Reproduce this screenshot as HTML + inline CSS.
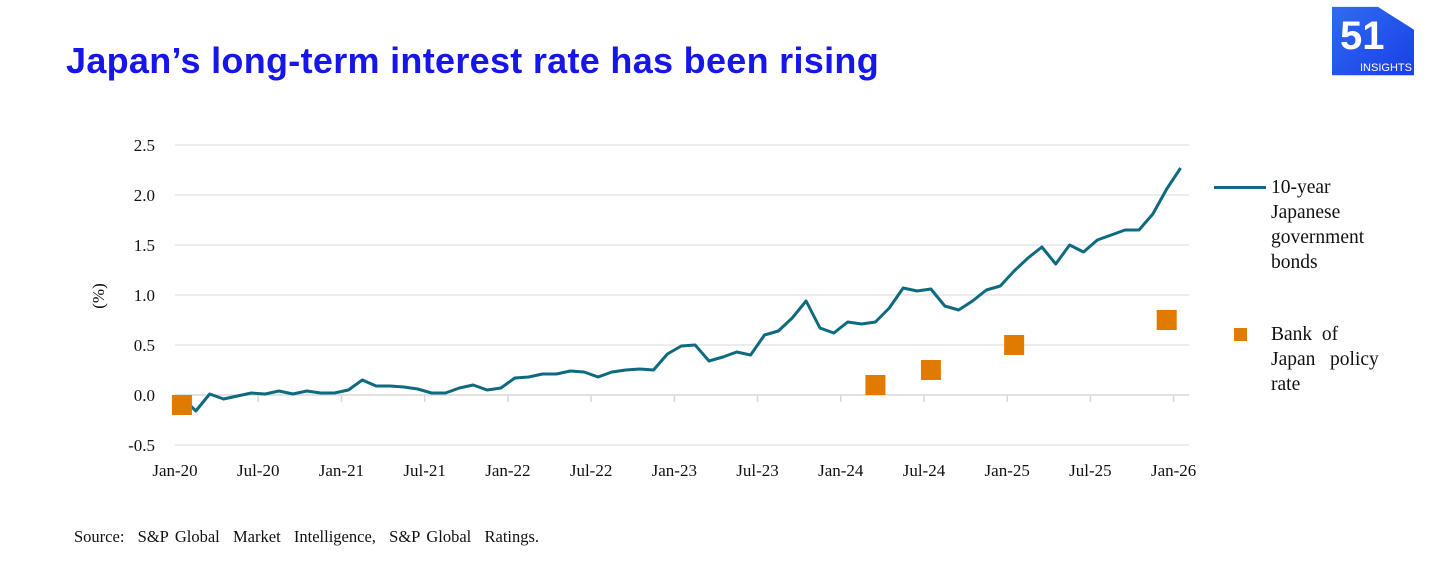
<!DOCTYPE html>
<html><head><meta charset="utf-8"><style>
body{margin:0;width:1456px;height:580px;background:#fff;overflow:hidden;position:relative;font-family:"Liberation Serif",serif}
.title{position:absolute;left:66px;top:40px;font:bold 36px "Liberation Sans",sans-serif;color:#1616e8;letter-spacing:0.3px}
.src{position:absolute;left:74px;top:527px;font-size:16.5px;color:#111;word-spacing:2.5px;white-space:pre}
.leg{position:absolute;font-size:19.5px;color:#111;line-height:25px}
</style></head><body>
<div class="title">Japan’s long-term interest rate has been rising</div>
<svg style="position:absolute;left:1332px;top:5px" width="86" height="74" viewBox="0 0 86 74">
<defs><linearGradient id="lg" x1="0" y1="0" x2="1" y2="1"><stop offset="0" stop-color="#2f6cf0"/><stop offset="1" stop-color="#1a3ee6"/></linearGradient></defs>
<polygon points="0,2 46,2 82,26 82,74 0,74" fill="url(#lg)" transform="scale(1,0.95)"/>
<text x="8" y="44" font-family="Liberation Sans,sans-serif" font-weight="bold" font-size="40" fill="#fff">51</text>
<text x="28" y="66" font-family="Liberation Sans,sans-serif" font-size="11" fill="#fff">INSIGHTS</text>
</svg>
<svg id="chart" style="position:absolute;left:0;top:0" width="1456" height="580"></svg>
<div class="leg" style="left:1271px;top:175px">10-year<br>Japanese<br>government<br>bonds</div>
<div style="position:absolute;left:1214px;top:186px;width:52px;height:3px;background:#0e6a80"></div>
<div style="position:absolute;left:1234px;top:328px;width:13px;height:13px;background:#e07b00"></div>
<div class="leg" style="left:1271px;top:322px">Bank &nbsp;of<br>Japan &nbsp;&nbsp;policy<br>rate</div>
<div class="src">Source:  S&amp;P Global  Market  Intelligence,  S&amp;P Global  Ratings.</div>
<script>
const yTicks=[2.5,2.0,1.5,1.0,0.5,0.0,-0.5];
const yTickLabels=["2.5","2.0","1.5","1.0","0.5","0.0","-0.5"];
const xTickMonths=[0,6,12,18,24,30,36,42,48,54,60,66,72];
const xTickLabels=["Jan-20","Jul-20","Jan-21","Jul-21","Jan-22","Jul-22","Jan-23","Jul-23","Jan-24","Jul-24","Jan-25","Jul-25","Jan-26"];
const jgb10y=[-0.02,-0.16,0.01,-0.04,-0.01,0.02,0.01,0.04,0.01,0.04,0.02,0.02,
0.05,0.15,0.09,0.09,0.08,0.06,0.02,0.02,0.07,0.10,0.05,0.07,
0.17,0.18,0.21,0.21,0.24,0.23,0.18,0.23,0.25,0.26,0.25,0.41,
0.49,0.50,0.34,0.38,0.43,0.40,0.60,0.64,0.77,0.94,0.67,0.62,
0.73,0.71,0.73,0.87,1.07,1.04,1.06,0.89,0.85,0.94,1.05,1.09,
1.24,1.37,1.48,1.31,1.50,1.43,1.55,1.60,1.65,1.65,1.81,2.06,2.27];
const bojMonths=[0,50,54,60,71];
const bojRates=[-0.1,0.1,0.25,0.5,0.75];
const NS="http://www.w3.org/2000/svg";
const svg=document.getElementById('chart');
const X=m=>175+m*13.87;
const Y=v=>395-v*100;
function mk(t,a){const e=document.createElementNS(NS,t);for(const k in a)e.setAttribute(k,a[k]);svg.appendChild(e);return e;}
yTicks.forEach((v,i)=>{
 const g=mk('line',{x1:175,x2:1189,y1:Y(v),y2:Y(v),stroke:v===0?'#d8d8d8':'#e6e6e6','stroke-width':1.5});
 
 
 const t=mk('text',{x:155,y:Y(v)+6,'text-anchor':'end','font-size':17,'font-family':'Liberation Serif,serif',fill:'#111'});
 t.textContent=yTickLabels[i];
 
 
});
xTickMonths.forEach((m,i)=>{
 const tk=mk('line',{x1:X(m),x2:X(m),y1:395,y2:402,stroke:'#d8d8d8','stroke-width':1.5});
 
 
 const t=mk('text',{x:X(m),y:476,'text-anchor':'middle','font-size':17,'font-family':'Liberation Serif,serif',fill:'#111'});
 t.textContent=xTickLabels[i];
 
 
});
const yt=mk('text',{x:0,y:0,transform:'translate(104,296) rotate(-90)','text-anchor':'middle','font-size':17,'font-family':'Liberation Serif,serif',fill:'#111'});
yt.textContent='(%)';


const pl=mk('polyline',{points:jgb10y.map((v,i)=>X(i+0.5)+','+Y(v)).join(' '),fill:'none',stroke:'#0e6a80','stroke-width':3,'stroke-linejoin':'round'});


bojMonths.forEach((m,i)=>{
 const r=mk('rect',{x:X(m+0.5)-10,y:Y(bojRates[i])-10,width:20,height:20,fill:'#e07b00'});
 
 
});
</script>
</body></html>
